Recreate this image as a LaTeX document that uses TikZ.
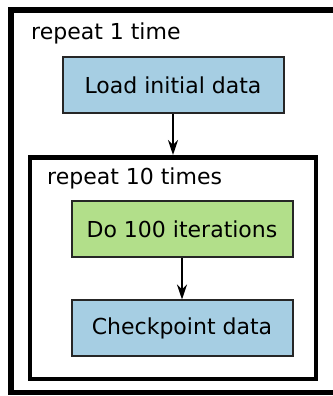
\documentclass[tikz,border=0pt]{standalone}
\usepackage{fontspec}
\setmainfont{DejaVu Sans}
\usetikzlibrary{arrows.meta}
\definecolor{stepblue}{HTML}{A6CEE3}
\definecolor{stepgreen}{HTML}{B2DF8A}
\tikzset{
  stepbox/.style={draw=black!85, line width=2pt, minimum width=221pt, minimum height=56pt, inner sep=0pt, font=\fontsize{22}{26}\selectfont},
  looptext/.style={anchor=base west, inner sep=0pt, font=\fontsize{22}{26}\selectfont},
  flow/.style={line width=2pt, -{Stealth[length=15pt,width=10pt,inset=5pt]}}
}
\begin{document}
\begin{tikzpicture}[x=1pt,y=1pt]
\useasboundingbox (0,0) rectangle (332,396);
\fill[white] (0,0) rectangle (332,396);
% outer loop
\draw[line width=5.5pt] (11,3.5) rectangle (360,386);
\node[looptext] (outerlabel) at (31,356) {repeat 1 time};
\node[stepbox, fill=stepblue] (load) at (173,311) {Load initial data};
% inner loop
\draw[line width=4.5pt] (30,17) rectangle (316,238.5);
\coordinate (innertop) at (173,241);
\node[looptext] (innerlabel) at (47,211) {repeat 10 times};
\node[stepbox, fill=stepgreen] (iterate) at (182,166.5) {Do 100 iterations};
\node[stepbox, fill=stepblue] (checkpoint) at (182,67.5) {Checkpoint data};
% arrows
\draw[flow] (load) -- (innertop);
\draw[flow] (iterate) -- (checkpoint);
\end{tikzpicture}
\end{document}
